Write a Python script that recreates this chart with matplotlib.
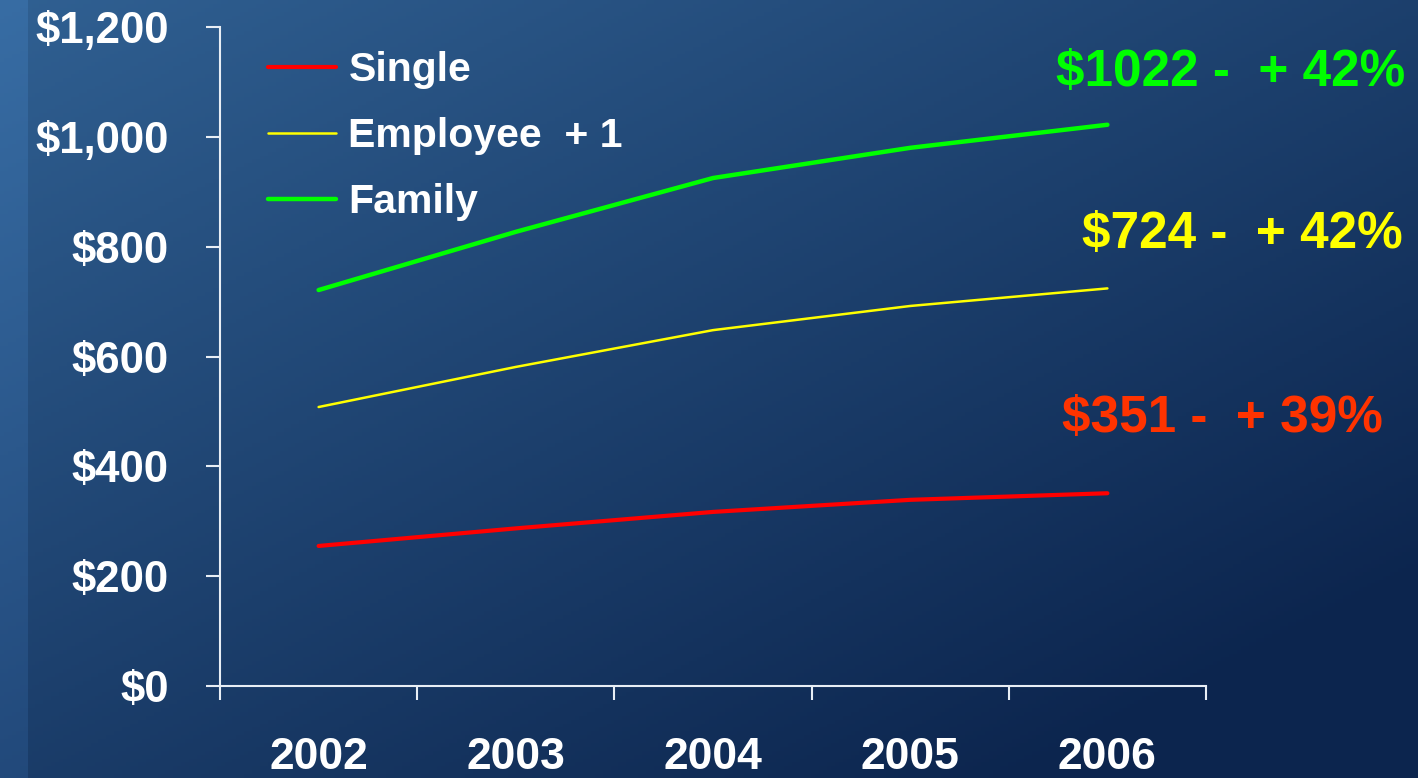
import numpy as np
import matplotlib
matplotlib.use("Agg")
import matplotlib.pyplot as plt

years = ["2002", "2003", "2004", "2005", "2006"]
single = [255, 287, 317, 339, 351]
employee_plus_1 = [508, 581, 648, 692, 724]
family = [721, 827, 925, 980, 1022]
y_ticks = [0, 200, 400, 600, 800, 1000, 1200]
y_tick_labels = ["$0", "$200", "$400", "$600", "$800", "$1,000", "$1,200"]
series_names = ["Single", "Employee  + 1", "Family"]
annotations = ["$1022 -  + 42%", "$724 -  + 42%", "$351 -  + 39%"]

plt.rcParams['font.family'] = ['Liberation Sans', 'DejaVu Sans']

W, H = 1418, 778
fig = plt.figure(figsize=(W / 100, H / 100), dpi=100)

# background gradient
bg = fig.add_axes([0, 0, 1, 1], zorder=-10)
bg.set_axis_off()
yy, xx = np.mgrid[0:1:200j, 0:1:360j]
t = np.clip(0.6 * yy + 0.55 * xx, 0, 1)
c0 = np.array([48, 96, 146]) / 255
c1 = np.array([12, 37, 78]) / 255
img = c0[None, None, :] * (1 - t[..., None]) + c1[None, None, :] * t[..., None]
strip = xx < 26 / W
img[strip] = img[strip] + np.array([0.03, 0.05, 0.07])
img = np.clip(img, 0, 1)
bg.imshow(img, extent=[0, 1, 0, 1], aspect='auto', origin='upper')
bg.set_xlim(0, 1)
bg.set_ylim(0, 1)

ax = fig.add_axes([220 / W, 1 - 686 / H, (1206 - 220) / W, (686 - 27) / H])
ax.patch.set_alpha(0)

x = np.arange(len(years))
ax.plot(x, single, color='#ff0000', lw=3.0, solid_capstyle='round', label=series_names[0])
ax.plot(x, employee_plus_1, color='#ffff00', lw=1.8, solid_capstyle='round', label=series_names[1])
ax.plot(x, family, color='#00ff00', lw=3.2, solid_capstyle='round', label=series_names[2])

ax.set_xlim(-0.5, len(years) - 0.5)
ax.set_ylim(0, 1200)
ax.set_yticks(y_ticks)
ax.set_yticklabels(y_tick_labels)
ax.set_xticks(np.arange(len(years) + 1) - 0.5)
ax.set_xticklabels([])
ax.set_xticks(x, minor=True)
ax.set_xticklabels(years, minor=True)

for s in ['top', 'right']:
    ax.spines[s].set_visible(False)
for s in ['left', 'bottom']:
    ax.spines[s].set_color('#e8eef5')
    ax.spines[s].set_linewidth(1.5)

ax.tick_params(axis='y', which='major', direction='out', length=10, width=1.5,
               color='#e8eef5', labelcolor='white', labelsize=31.5, pad=27)
ax.tick_params(axis='x', which='major', direction='out', length=10, width=1.5,
               color='#e8eef5')
ax.tick_params(axis='x', which='minor', length=0, labelcolor='white', labelsize=32, pad=37)
for lab in ax.get_yticklabels() + ax.get_xticklabels(minor=True):
    lab.set_fontweight('bold')

leg = ax.legend(loc='upper left', bbox_to_anchor=(0.0487, 0.963), frameon=False,
                prop={'size': 29.5, 'weight': 'bold'}, labelcolor='white',
                borderpad=0, borderaxespad=0,
                handlelength=1.66, handletextpad=0.3, labelspacing=0.68)

ann_colors = ['#00ff00', '#ffff00', '#ff3300']
ann_y = [1 - 72 / H, 1 - 235 / H, 1 - 418 / H]
ann_x = [1405 / W, 1403 / W, 1383 / W]
for txt, c, xa, ya in zip(annotations, ann_colors, ann_x, ann_y):
    fig.text(xa, ya, txt, color=c, fontsize=37, fontweight='bold', ha='right', va='center')

fig.savefig('out.png', dpi=100)
